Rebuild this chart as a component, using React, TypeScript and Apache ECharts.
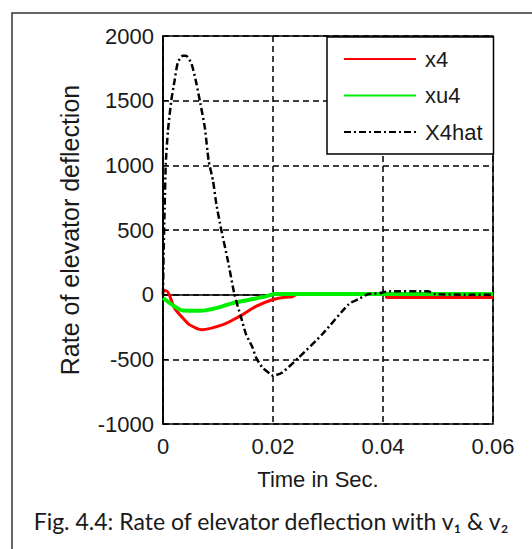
import React, { useEffect, useRef } from "react";
import * as echarts from "echarts";

// Time (s) and value pairs for each response curve
const x4: [number, number][] = [
  [0, 31], [0.0006, 31], [0.0021, -104], [0.0039, -194], [0.0048, -232],
  [0.007, -271], [0.0109, -232], [0.0139, -168], [0.0169, -91], [0.0199, -39],
  [0.0229, -18], [0.0232, -18], [0.0245, 4], [0.0405, 4], [0.0407, -21], [0.06, -21],
];

const xu4: [number, number][] = [
  [0, -26], [0.0021, -91], [0.0036, -122], [0.0067, -124], [0.0097, -104],
  [0.0127, -65], [0.0157, -39], [0.0187, -13], [0.0205, 5], [0.06, 5],
];

const x4hat: [number, number][] = [
  [0, 0], [0.0001, 300], [0.0003, 673], [0.0005, 1009], [0.0009, 1267],
  [0.0015, 1499], [0.0021, 1654], [0.0027, 1796], [0.0036, 1847], [0.0042, 1847],
  [0.0052, 1783], [0.0061, 1628], [0.0067, 1499], [0.0076, 1293], [0.0083, 1035],
  [0.0091, 880], [0.0097, 700], [0.0106, 500], [0.0118, 263], [0.013, 0],
  [0.0142, -176], [0.0151, -307], [0.0163, -410], [0.0169, -485], [0.0181, -565],
  [0.0196, -616], [0.02, -627], [0.0217, -601], [0.0247, -485], [0.029, -304],
  [0.0338, -72], [0.0356, -33], [0.0374, 5], [0.0395, 13], [0.041, 26],
  [0.0482, 26], [0.0494, 5], [0.055, 0], [0.06, 0],
];

const xTicks = [0, 0.02, 0.04, 0.06];
const seriesNames = ["x4", "xu4", "X4hat"];

const TICK_FONT = "'Liberation Sans', Arial, sans-serif";
const CAPTION_FONT = "Lato, 'Open Sans', sans-serif";

export default function App() {
  const ref = useRef<HTMLDivElement>(null);

  useEffect(() => {
    if (!ref.current) return;
    const chart = echarts.init(ref.current, undefined, { renderer: "svg" });
    chart.setOption({
      animation: false,
      backgroundColor: "#fff",
      grid: {
        left: 163,
        top: 36,
        right: 39,
        bottom: 125,
        show: true,
        borderColor: "#000",
        borderWidth: 1.5,
        backgroundColor: "#fff",
      },
      legend: {
        data: seriesNames,
        orient: "vertical",
        left: 327,
        top: 37,
        padding: [11, 11, 11, 16],
        itemWidth: 72,
        itemHeight: 14,
        itemGap: 14.5,
        // lines only in the key, no marker dot
        itemStyle: { opacity: 0 },
        backgroundColor: "#fff",
        borderColor: "#000",
        borderWidth: 1.5,
        borderRadius: 0,
        textStyle: {
          fontFamily: TICK_FONT,
          fontSize: 22,
          lineHeight: 22,
          color: "#1a1a1a",
          padding: [0, 0, 0, 4],
        },
      },
      xAxis: {
        type: "value",
        min: xTicks[0],
        max: xTicks[xTicks.length - 1],
        interval: 0.02,
        name: "Time in Sec.",
        nameLocation: "middle",
        nameGap: 44,
        nameTextStyle: {
          fontFamily: TICK_FONT,
          fontSize: 22,
          color: "#1a1a1a",
          padding: [0, 20, 0, 0],
        },
        axisLine: { show: true, lineStyle: { color: "#000", width: 1.5 } },
        axisTick: { show: true, inside: true, length: 5, lineStyle: { color: "#000" } },
        axisLabel: {
          fontFamily: TICK_FONT,
          fontSize: 22,
          color: "#1a1a1a",
          margin: 11,
          formatter: (v: number) => (Math.abs(v) < 1e-9 ? "0" : v.toFixed(2)),
        },
        splitLine: {
          show: true,
          lineStyle: { color: "#000", type: [6, 4], width: 1.5 },
        },
      },
      yAxis: {
        type: "value",
        min: -1000,
        max: 2000,
        interval: 500,
        name: "Rate of elevator deflection",
        nameLocation: "middle",
        nameGap: 81,
        nameTextStyle: {
          fontFamily: TICK_FONT,
          fontSize: 25,
          color: "#1a1a1a",
        },
        axisLine: { show: true, lineStyle: { color: "#000", width: 1.5 } },
        axisTick: { show: true, inside: true, length: 5, lineStyle: { color: "#000" } },
        axisLabel: {
          fontFamily: TICK_FONT,
          fontSize: 22,
          color: "#1a1a1a",
          margin: 9,
          formatter: (v: number) => String(v),
        },
        splitLine: {
          show: true,
          lineStyle: { color: "#000", type: [6, 4], width: 1.5 },
        },
      },
      series: [
        {
          name: "x4",
          type: "line",
          data: x4,
          symbol: "none",
          smooth: 0.3,
          lineStyle: { color: "#ff0000", width: 3 },
          itemStyle: { color: "#ff0000" },
          z: 2,
        },
        {
          name: "xu4",
          type: "line",
          data: xu4,
          symbol: "none",
          smooth: 0.3,
          lineStyle: { color: "#00ee00", width: 4 },
          itemStyle: { color: "#00ee00" },
          z: 3,
        },
        {
          name: "X4hat",
          type: "line",
          data: x4hat,
          symbol: "none",
          smooth: 0.2,
          lineStyle: { color: "#000", width: 2.5, type: [7, 3, 2, 3] },
          itemStyle: { color: "#000" },
          z: 4,
        },
      ],
      graphic: [
        {
          type: "rect",
          shape: { x: 12, y: 13, width: 600, height: 600 },
          style: { fill: "none", stroke: "#333", lineWidth: 1.5 },
          silent: true,
        },
        {
          type: "text",
          x: 271,
          y: 521,
          style: {
            text: "Fig. 4.4: Rate of elevator deflection with v\u2081 & v\u2082",
            fontFamily: CAPTION_FONT,
            fontSize: 23,
            fill: "#1a1a1a",
            align: "center",
            verticalAlign: "middle",
          },
        },
      ],
    });
    return () => chart.dispose();
  }, []);

  return (
    <div
      ref={ref}
      style={{ position: "absolute", left: 0, top: 0, width: 532, height: 549 }}
    />
  );
}
